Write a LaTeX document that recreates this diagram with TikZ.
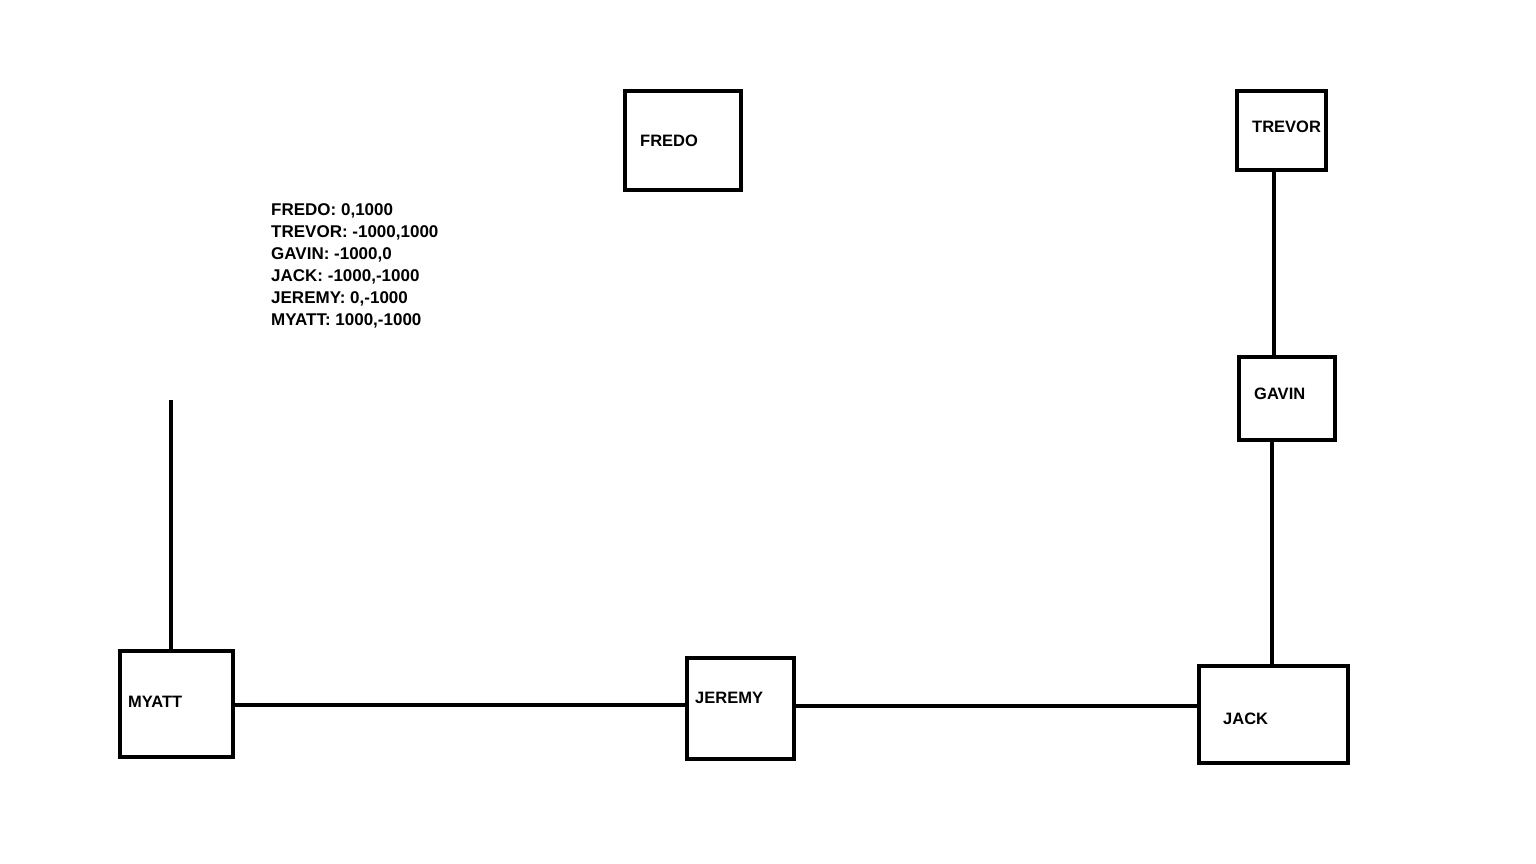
\documentclass[tikz,border=0pt]{standalone}
\usepackage{fontspec}
\setmainfont{Liberation Sans}
\begin{document}
\begin{tikzpicture}[x=1pt,y=-1pt,
  box/.style={draw=black,line width=4pt,inner sep=0pt,anchor=north west},
  lbl/.style={font=\fontsize{16.5}{18}\selectfont\bfseries,anchor=west,inner sep=0pt},
  wire/.style={line width=4pt,draw=black}]
\useasboundingbox[fill=white] (0,0) rectangle (1536,864);
\newcommand\bx[5]{\node[box,minimum width=#4pt,minimum height=#5pt] (#1) at (#2,#3) {};}
\bx{fredo}{623}{89}{116}{99}
\bx{trevor}{1235}{89}{89}{79}
\bx{gavin}{1237}{355}{96}{83}
\bx{jack}{1197}{664}{149}{97}
\bx{jeremy}{685}{656}{107}{101}
\bx{myatt}{118}{649}{113}{106}
\node[lbl] (tf) at (640,141) {FREDO};
\node[lbl] (tt) at (1252,127) {TREVOR};
\node[lbl] (tg) at (1254,394) {GAVIN};
\node[lbl] (tj) at (1223,719) {JACK};
\node[lbl] (tje) at (695,698) {JEREMY};
\node[lbl] (tm) at (128,702) {MYATT};
\node[lbl,anchor=north west,align=left,font=\fontsize{17}{22}\selectfont\bfseries] (info) at (271,203)
 {FREDO: 0,1000\\TREVOR: -1000,1000\\GAVIN: -1000,0\\JACK: -1000,-1000\\JEREMY: 0,-1000\\MYATT: 1000,-1000};
\coordinate (free) at (171,400);
\draw[wire] (trevor.south -| 1274,0) -- (gavin.north -| 1274,0);
\draw[wire] (gavin.south -| 1272,0) -- (jack.north -| 1272,0);
\draw[wire] (myatt.east |- 0,705) -- (jeremy.west |- 0,705);
\draw[wire] (jeremy.east |- 0,706) -- (jack.west |- 0,706);
\draw[wire] (free) -- (myatt.north -| free);
\end{tikzpicture}
\end{document}
